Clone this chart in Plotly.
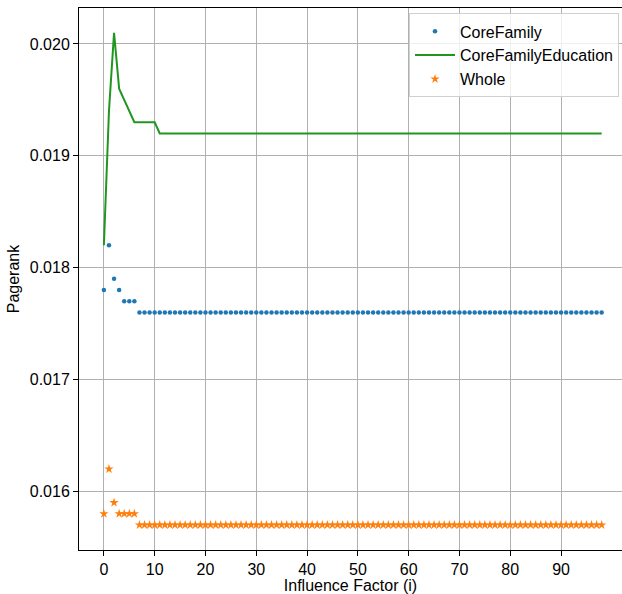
import plotly.graph_objects as go

x_vals = list(range(0, 99))
core_family = [0.0178, 0.0182, 0.0179, 0.0178, 0.0177, 0.0177, 0.0177] + [0.0176] * 92
core_family_education = [0.0182, 0.0194, 0.0201, 0.0196, 0.0195, 0.0194, 0.0193,
                         0.0193, 0.0193, 0.0193, 0.0193] + [0.0192] * 88
whole = [0.0158, 0.0162, 0.0159, 0.0158, 0.0158, 0.0158, 0.0158] + [0.0157] * 92

x_ticks = [0, 10, 20, 30, 40, 50, 60, 70, 80, 90]
y_ticks = [0.016, 0.017, 0.018, 0.019, 0.020]
y_tick_text = ["0.016", "0.017", "0.018", "0.019", "0.020"]

fig = go.Figure()
fig.add_trace(go.Scatter(x=x_vals, y=core_family, mode="markers", name="CoreFamily",
                         marker=dict(color="#1f77b4", size=4.5, symbol="circle")))
fig.add_trace(go.Scatter(x=x_vals, y=core_family_education, mode="lines", name="CoreFamilyEducation",
                         line=dict(color="#209620", width=2)))
fig.add_trace(go.Scatter(x=x_vals, y=whole, mode="markers", name="Whole",
                         marker=dict(color="#ff7f0e", size=7, symbol="star", line=dict(width=0))))

font = dict(family="Liberation Sans, Arial, sans-serif", size=16, color="#000000")

fig.update_layout(
    width=622, height=594,
    margin=dict(l=79, r=0, t=8, b=44),
    paper_bgcolor="white", plot_bgcolor="white",
    font=font,
    showlegend=True,
    legend=dict(x=0.9945, y=0.99, xanchor="right", yanchor="top",
                bgcolor="rgba(255,255,255,0.8)", bordercolor="#d0d0d0", borderwidth=1,
                font=dict(family="Liberation Sans, Arial, sans-serif", size=16, color="#000"),
                tracegroupgap=0, itemwidth=40),
    xaxis=dict(range=[-4.9, 102.0], tickvals=x_ticks, showgrid=True, gridcolor="#b0b0b0", gridwidth=0.8,
               showline=True, linecolor="#000", linewidth=1, mirror=True,
               ticks="outside", ticklen=5, tickcolor="#000", zeroline=False,
               title=dict(text="Influence Factor (i)", standoff=2, font=font),
               tickfont=font),
    yaxis=dict(range=[0.015476, 0.020321], tickvals=y_ticks, ticktext=y_tick_text,
               showgrid=True, gridcolor="#b0b0b0", gridwidth=0.8,
               showline=True, linecolor="#000", linewidth=1, mirror=False,
               ticks="outside", ticklen=5, tickcolor="#000", zeroline=False,
               title=dict(text="Pagerank", standoff=6, font=font),
               tickfont=font),
)

fig.write_html("out.html")
